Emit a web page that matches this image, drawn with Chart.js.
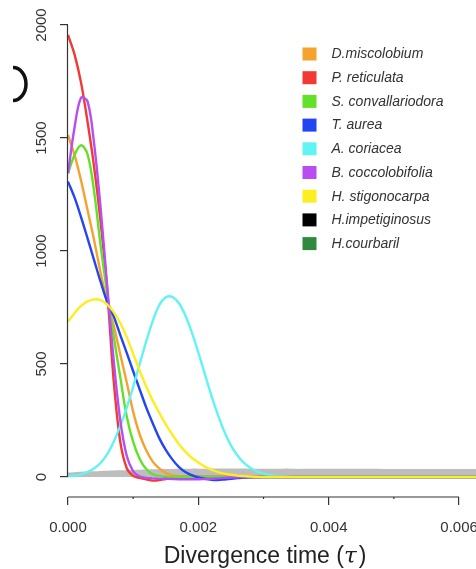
<!DOCTYPE html>
<html>
<head>
<meta charset="utf-8">
<script src="https://cdn.jsdelivr.net/npm/chart.js@4.4.1/dist/chart.umd.min.js"></script>
<style>
  html, body { margin: 0; padding: 0; background: #fff; }
</style>
</head>
<body>
<canvas id="chart" width="476" height="569"></canvas>
<script>
// --- DATA ---
const tau = [0, 0.0001, 0.0002, 0.0003, 0.0004, 0.0005, 0.0006, 0.0007, 0.0008, 0.0009,
  0.0010, 0.0011, 0.0012, 0.0013, 0.0014, 0.0015, 0.0016, 0.0017, 0.0018, 0.0019,
  0.0020, 0.0021, 0.0022, 0.0023, 0.0024, 0.0025, 0.0026, 0.0027, 0.0028, 0.0029,
  0.0030, 0.0031, 0.0032, 0.0033, 0.0034, 0.0035, 0.0036,
  0.0040, 0.0045, 0.0050, 0.0055, 0.0060, 0.0065];

const miscolobium = [1513,1425,1312,1181,1049,905,775,672,545,420,288,188,118,68,38,18,8,3,1,
  0,0,0,0,0,0,0,0,0,0, 0,0,0,0,0,0,0,0, 0,0,0,0,0,0];
const reticulata = [1956,1870,1745,1572,1373,1130,830,430,160,40,5,-4,-10,-16,-14,-9,-4,-1,
  0,0, 0,0,0,0,0,0,0,0,0, 0,0,0,0,0,0,0,0, 0,0,0,0,0,0];
const convallariodora = [1344,1425,1468,1428,1265,1025,815,625,445,270,155,80,35,12,4,1,
  0,0,0,0,0,0,0,0,0,0,0,0,0,0,0,0,0,0,0,0,0, 0,0,0,0,0,0];
const aurea = [1307,1237,1150,1056,960,864,776,712,630,550,468,388,308,238,172,120,78,45,22,8,
  -2,-8,-12,-13,-11,-8,-5,-3,-1, 0,0,0,0,0,0,0,0, 0,0,0,0,0,0];
const coriacea = [3,6,12,22,38,62,100,155,225,305,400,500,600,690,760,795,797,770,715,640,
  550,455,360,275,200,140,95,62,40,25,15,9,5,3,1,0,0, 0,0,0,0,0,0];
const coccolobifolia = [1344,1545,1678,1662,1476,1190,850,520,255,95,25,2,-4,-6,-7,-8,-9,-10,-10,-10,
  -10,-9,-8,-6,-4,-2,-1, 0,0,0,0,0,0,0,0,0,0, 0,0,0,0,0,0];
const stigonocarpa = [687,725,757,777,786,783,764,730,682,620,545,470,400,338,285,233,188,146,112,85,
  64,46,32,22,15,10,6,4,2,1,0,0,0,0,0,0,0, 0,0,0,0,0,0];
const impetiginosus = [];
const courbaril = [];
// grey band along the bottom
const band = [20,21,23,24,25,27,28,29,30,30,31,32,33,34,34,35,35,36,36,37,
  37,37,38,38,38,38,38,38,37,37,37,37,37,37,37,36,36, 36,36,35,35,35,35];

const speciesNames = ['D.miscolobium', 'P. reticulata', 'S. convallariodora', 'T. aurea', 'A. coriacea',
  'B. coccolobifolia', 'H. stigonocarpa', 'H.impetiginosus', 'H.courbaril'];
const speciesColors = ['#f7a12f', '#f03a32', '#62e12a', '#2445f2', '#62f3f3',
  '#b64ef2', '#fbee21', '#000000', '#2f8a3e'];
const speciesValues = [miscolobium, reticulata, convallariodora, aurea, coriacea,
  coccolobifolia, stigonocarpa, impetiginosus, courbaril];
const drawOrder = [9, 8, 7, 6, 5, 4, 3, 2, 1];

const xTicks = [0, 0.002, 0.004, 0.006];
const yTicks = [0, 500, 1000, 1500, 2000];

const toPoints = vals => vals.map((v, i) => ({ x: tau[i], y: v }));

const datasets = speciesNames.map((name, i) => ({
  label: name,
  data: toPoints(speciesValues[i]),
  borderColor: speciesColors[i],
  backgroundColor: speciesColors[i],
  borderWidth: 2.4,
  pointRadius: 0,
  tension: 0.35,
  fill: false,
  order: drawOrder[i]
}));
datasets.push({
  label: '',
  data: toPoints(band),
  borderWidth: 0,
  borderColor: 'rgba(0,0,0,0)',
  backgroundColor: '#bdbdbd',
  pointRadius: 0,
  tension: 0.3,
  fill: 'origin',
  order: 20
});

Chart.defaults.font.family = '"Liberation Sans", Arial, sans-serif';

// --- axis lines, rotated y labels, title, legend ---
const decor = {
  id: 'decor',
  afterDraw(chart) {
    const { ctx, chartArea, scales: { x, y } } = chart;
    ctx.save();
    ctx.strokeStyle = '#333';
    ctx.lineWidth = 1.2;
    ctx.beginPath();
    ctx.moveTo(chartArea.left - 0.5, y.getPixelForValue(0));
    ctx.lineTo(chartArea.left - 0.5, y.getPixelForValue(2000));
    ctx.stroke();
    ctx.beginPath();
    ctx.moveTo(x.getPixelForValue(0), chartArea.bottom);
    ctx.lineTo(x.getPixelForValue(0.006), chartArea.bottom);
    ctx.stroke();
    [0.001, 0.003, 0.005].forEach(v => {
      const px = x.getPixelForValue(v);
      ctx.beginPath();
      ctx.moveTo(px, chartArea.bottom);
      ctx.lineTo(px, chartArea.bottom + 2);
      ctx.stroke();
    });

    // y tick labels, R style (rotated)
    ctx.fillStyle = '#333';
    ctx.font = '15px "Liberation Sans", Arial, sans-serif';
    ctx.textAlign = 'center';
    ctx.textBaseline = 'alphabetic';
    yTicks.forEach(v => {
      ctx.save();
      ctx.translate(45.5, y.getPixelForValue(v));
      ctx.rotate(-Math.PI / 2);
      ctx.fillText(String(v), 0, 0);
      ctx.restore();
    });

    // x axis title with italic tau
    const f1 = '23px "Liberation Sans", Arial, sans-serif';
    const f2 = 'italic 23px "DejaVu Serif", serif';
    const a = 'Divergence time (', b = 'τ', c = ')';
    ctx.font = f1; const wa = ctx.measureText(a).width, wc = ctx.measureText(c).width;
    ctx.font = f2; const wb = ctx.measureText(b).width + 2;
    let tx = 265 - (wa + wb + wc) / 2;
    ctx.textAlign = 'left';
    ctx.fillStyle = '#222';
    ctx.font = f1; ctx.fillText(a, tx, 563); tx += wa;
    ctx.font = f2; ctx.fillText(b, tx, 563); tx += wb;
    ctx.font = f1; ctx.fillText(c, tx, 563);

    // legend
    ctx.textBaseline = 'middle';
    ctx.font = 'italic 14px "Liberation Sans", Arial, sans-serif';
    speciesNames.forEach((name, i) => {
      const cy = 54 + i * 23.7;
      ctx.fillStyle = speciesColors[i];
      ctx.fillRect(302.5, cy - 6.5, 14, 13);
      ctx.fillStyle = '#333';
      ctx.fillText(name, 331.5, cy + 0.5);
    });

    // clipped panel letter at the left edge
    ctx.strokeStyle = '#111';
    ctx.lineWidth = 3.5;
    ctx.beginPath();
    ctx.ellipse(13, 84, 13, 16.5, 0, -Math.PI / 2, Math.PI / 2);
    ctx.stroke();
    ctx.restore();
  }
};

new Chart(document.getElementById('chart').getContext('2d'), {
  type: 'line',
  data: { datasets: datasets },
  options: {
    responsive: false,
    animation: false,
    layout: { padding: { top: 16, right: 0, left: 0, bottom: 0 } },
    plugins: { legend: { display: false }, tooltip: { enabled: false } },
    scales: {
      x: {
        type: 'linear',
        min: 0,
        max: 0.00626,
        afterBuildTicks: s => { s.ticks = xTicks.map(v => ({ value: v })); },
        afterFit: s => { s.height = 72; s.paddingLeft = 0; s.paddingRight = 0; },
        border: { display: false },
        grid: { drawOnChartArea: false, drawTicks: true, tickLength: 8, color: '#333', lineWidth: 1.2 },
        ticks: {
          padding: 14,
          color: '#333',
          font: { size: 15 },
          maxRotation: 0,
          callback: v => v.toFixed(3)
        }
      },
      y: {
        type: 'linear',
        min: -88.5,
        max: 2039.8,
        afterBuildTicks: s => { s.ticks = yTicks.map(v => ({ value: v })); },
        afterFit: s => { s.width = 68; s.paddingTop = 0; s.paddingBottom = 0; },
        border: { display: false },
        grid: { drawOnChartArea: false, drawTicks: true, tickLength: 8, color: '#333', lineWidth: 1.2 },
        ticks: { display: false }
      }
    }
  },
  plugins: [decor]
});
</script>
</body>
</html>
